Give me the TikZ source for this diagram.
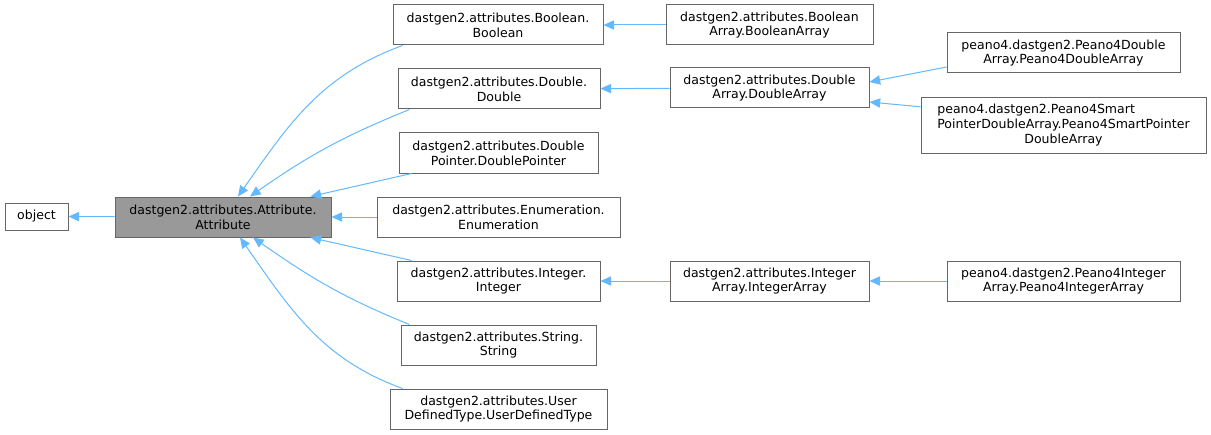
\documentclass[tikz,border=0pt]{standalone}
\usepackage{fontspec}
\setmainfont{DejaVu Sans}
\usetikzlibrary{arrows.meta}
\definecolor{edgecol}{HTML}{63B8FF}
\definecolor{boxcol}{HTML}{666666}
\definecolor{basecol}{HTML}{999999}

\begin{document}
\begin{tikzpicture}[x=0.75pt, y=-0.75pt,
    block/.style={rectangle, draw=boxcol, line width=0.75pt, minimum height=30pt, inner sep=1pt, align=center, font=\fontsize{9.4}{11}\selectfont},
    arr/.style={-{Triangle[length=8pt, width=7pt]}, edgecol, line width=0.75pt},
  ]
    \useasboundingbox (0,0) rectangle (1211,435);

    % left part
    \node[block, minimum width=47.25pt, minimum height=20.25pt] (obj) at (36.5,216.5) {object};
    \node[block, fill=basecol, minimum width=162pt] (attr) at (223,217) {dastgen2.attributes.Attribute.\\Attribute};

    % direct subclasses
    \node[block, minimum width=157.5pt] (bool) at (498,25) {dastgen2.attributes.Boolean.\\Boolean};
    \node[block, minimum width=151.5pt] (dbl) at (499,89) {dastgen2.attributes.Double.\\Double};
    \node[block, minimum width=149.25pt] (dblptr) at (498.5,153) {dastgen2.attributes.Double\\Pointer.DoublePointer};
    \node[block, minimum width=182.25pt] (enum) at (498.5,217) {dastgen2.attributes.Enumeration.\\Enumeration};
    \node[block, minimum width=152.25pt] (int) at (498.5,281) {dastgen2.attributes.Integer.\\Integer};
    \node[block, minimum width=146.25pt] (str) at (498.5,345) {dastgen2.attributes.String.\\String};
    \node[block, minimum width=162.75pt] (udt) at (498.5,409) {dastgen2.attributes.User\\DefinedType.UserDefinedType};

    % arrays
    \node[block, minimum width=155.25pt] (boolarr) at (769.5,25) {dastgen2.attributes.Boolean\\Array.BooleanArray};
    \node[block, minimum width=149.25pt] (dblarr) at (769.5,88) {dastgen2.attributes.Double\\Array.DoubleArray};
    \node[block, minimum width=149.25pt] (intarr) at (769.5,281) {dastgen2.attributes.Integer\\Array.IntegerArray};

    % peano4
    \node[block, minimum width=174.75pt] (pdbl) at (1063.5,53) {peano4.dastgen2.Peano4Double\\Array.Peano4DoubleArray};
    \node[block, minimum width=213.75pt, minimum height=41.25pt] (psmart) at (1063.5,125.5) {\begin{tabular}{@{}l@{}}peano4.dastgen2.Peano4Smart\\PointerDoubleArray.Peano4SmartPointer\\\multicolumn{1}{@{}c@{}}{DoubleArray}\end{tabular}};
    \node[block, minimum width=174.75pt] (pint) at (1063.5,281) {peano4.dastgen2.Peano4Integer\\Array.Peano4IntegerArray};

    % inheritance
    \draw[arr] (attr) -- (obj);
    \draw[arr] ([xshift=7.5pt]bool.south west) to[out=200, in=55] ([xshift=11.25pt]attr.north);
    \draw[arr] ([xshift=9pt]dbl.south west) to[out=202, in=35] ([xshift=20.25pt]attr.north);
    \draw[arr] ([xshift=9.75pt]dblptr.south west) -- ([xshift=-15.75pt]attr.north east);
    \draw[arr] (enum) -- (attr);
    \draw[arr] ([xshift=11.25pt]int.north west) -- ([xshift=-15.75pt]attr.south east);
    \draw[arr] ([xshift=6.75pt]str.north west) to[out=158, in=-35] ([xshift=22.5pt]attr.south);
    \draw[arr] ([xshift=9.75pt]udt.north west) to[out=160, in=-55] ([xshift=12.75pt]attr.south);

    \draw[arr] (boolarr) -- (bool);
    \draw[arr] (dblarr) -- (dbl);
    \draw[arr] (intarr) -- (int);
    \draw[arr] ([yshift=-10.5pt]pdbl.west) -- ([yshift=4.5pt]dblarr.east);
    \draw[arr] ([yshift=14pt]psmart.west) -- ([yshift=-10.5pt]dblarr.east);
    \draw[arr] (pint) -- (intarr);
\end{tikzpicture}
\end{document}
